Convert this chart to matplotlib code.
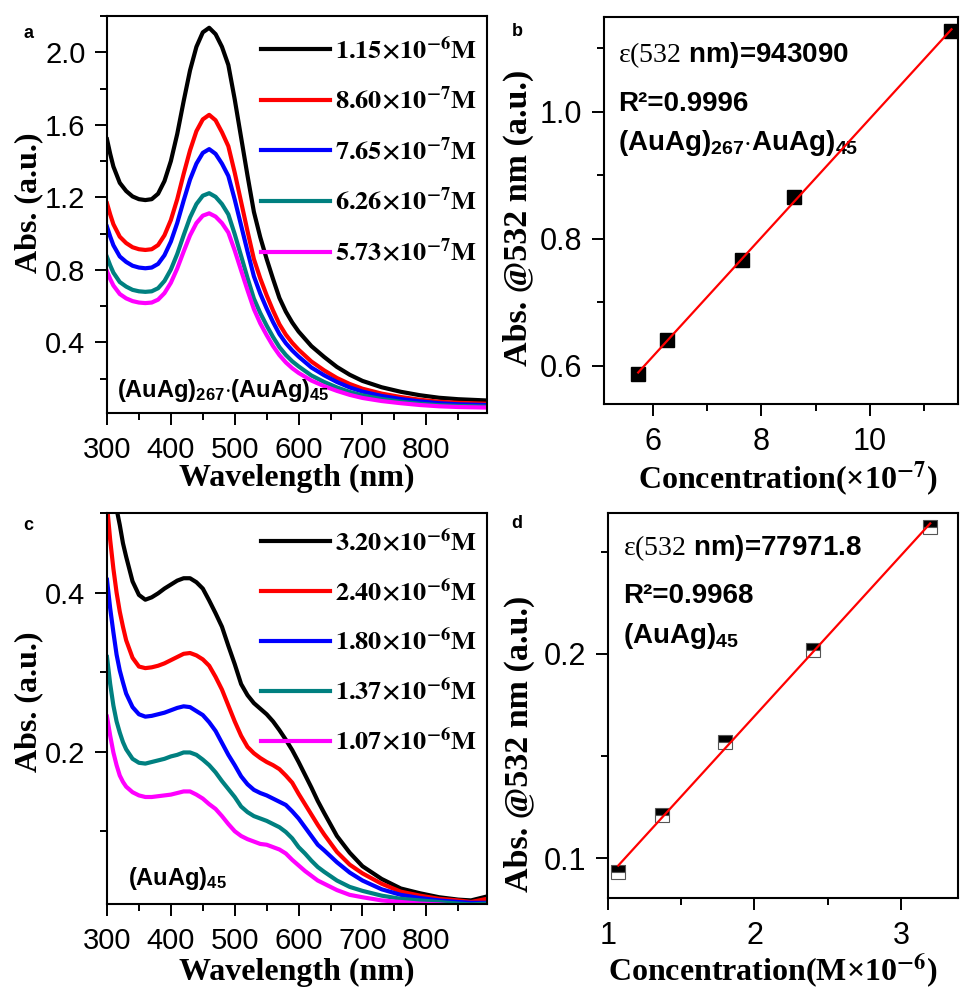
import numpy as np
import matplotlib
matplotlib.use('Agg')
import matplotlib.pyplot as plt
from matplotlib.ticker import MultipleLocator

plt.rcParams['font.family'] = ['Liberation Sans', 'DejaVu Sans']
plt.rcParams['mathtext.fontset'] = 'custom'
plt.rcParams['mathtext.rm'] = 'Liberation Serif'
plt.rcParams['mathtext.bf'] = 'Liberation Sans:bold'
plt.rcParams['mathtext.it'] = 'Liberation Serif:italic'

# ---------------- Panel a data ----------------
wl_a = [300, 305, 310, 320, 330, 340, 350, 360, 370, 380, 390, 400, 410, 420, 430,
        440, 450, 460, 470, 480, 490, 500, 510, 520, 530, 540, 550, 560, 570, 580,
        590, 600, 620, 640, 660, 680, 700, 730, 760, 790, 820, 850, 895]
a_black = [1.52, 1.44, 1.37, 1.28, 1.235, 1.205, 1.19, 1.185, 1.19, 1.22, 1.29, 1.40, 1.55, 1.73, 1.90,
           2.03, 2.11, 2.135, 2.10, 2.03, 1.93, 1.74, 1.53, 1.32, 1.12, 0.98, 0.86, 0.75, 0.645, 0.57,
           0.51, 0.46, 0.38, 0.32, 0.265, 0.222, 0.188, 0.153, 0.128, 0.109, 0.095, 0.087, 0.080]
a_red = [1.167, 1.106, 1.052, 0.983, 0.948, 0.925, 0.914, 0.910, 0.914, 0.937, 0.991, 1.075, 1.190, 1.329, 1.459,
         1.565, 1.630, 1.655, 1.625, 1.559, 1.482, 1.336, 1.175, 1.014, 0.860, 0.753, 0.660, 0.576, 0.500, 0.443,
         0.398, 0.360, 0.295, 0.246, 0.204, 0.171, 0.145, 0.118, 0.099, 0.084, 0.073, 0.067, 0.062]
a_blue = [1.038, 0.984, 0.936, 0.874, 0.844, 0.823, 0.813, 0.809, 0.813, 0.833, 0.881, 0.956, 1.059, 1.182, 1.298,
          1.386, 1.445, 1.466, 1.440, 1.386, 1.318, 1.188, 1.045, 0.902, 0.765, 0.669, 0.587, 0.512, 0.446, 0.396,
          0.356, 0.322, 0.262, 0.219, 0.182, 0.152, 0.129, 0.105, 0.088, 0.075, 0.065, 0.059, 0.055]
a_teal = [0.871, 0.825, 0.785, 0.733, 0.708, 0.690, 0.682, 0.679, 0.682, 0.699, 0.739, 0.802, 0.888, 0.991, 1.089,
          1.163, 1.209, 1.223, 1.203, 1.163, 1.106, 0.997, 0.877, 0.756, 0.642, 0.562, 0.493, 0.430, 0.374, 0.331,
          0.296, 0.268, 0.218, 0.182, 0.152, 0.127, 0.108, 0.088, 0.073, 0.062, 0.054, 0.050, 0.046]
a_mag = [0.792, 0.750, 0.714, 0.667, 0.643, 0.628, 0.620, 0.617, 0.620, 0.636, 0.672, 0.729, 0.808, 0.901, 0.990,
         1.058, 1.099, 1.112, 1.094, 1.058, 1.006, 0.907, 0.797, 0.688, 0.584, 0.505, 0.440, 0.380, 0.330, 0.290,
         0.258, 0.232, 0.190, 0.159, 0.133, 0.111, 0.094, 0.077, 0.065, 0.055, 0.048, 0.044, 0.041]
conc_a = ['1.15', '8.60', '7.65', '6.26', '5.73']
exp_a = [-6, -7, -7, -7, -7]

# ---------------- Panel b data ----------------
conc_b = [5.73, 6.26, 7.65, 8.60, 11.5]
abs_b = [0.587, 0.640, 0.767, 0.865, 1.127]

# ---------------- Panel c data ----------------
wl_c = [300, 305, 310, 315, 320, 325, 330, 340, 350, 360, 370, 380, 390, 400, 410, 420, 430,
        440, 450, 460, 470, 480, 490, 500, 510, 520, 530, 540, 550, 560, 570, 580, 590, 600,
        610, 620, 630, 640, 660, 680, 700, 730, 760, 790, 820, 850, 870, 895]
c_black = [0.62, 0.58, 0.54, 0.505, 0.485, 0.462, 0.445, 0.414, 0.397, 0.391, 0.394, 0.399, 0.405, 0.410, 0.415, 0.418, 0.418,
           0.413, 0.405, 0.390, 0.374, 0.357, 0.333, 0.310, 0.285, 0.271, 0.261, 0.254, 0.247, 0.238, 0.227, 0.215, 0.202, 0.187,
           0.171, 0.155, 0.138, 0.123, 0.094, 0.073, 0.056, 0.040, 0.028, 0.022, 0.017, 0.014, 0.013, 0.018]
c_red = [0.51, 0.466, 0.430, 0.400, 0.376, 0.357, 0.340, 0.318, 0.307, 0.305, 0.306, 0.308, 0.311, 0.315, 0.319, 0.323, 0.324,
         0.321, 0.316, 0.308, 0.294, 0.278, 0.258, 0.238, 0.220, 0.206, 0.198, 0.192, 0.187, 0.183, 0.178, 0.170, 0.161, 0.147,
         0.134, 0.121, 0.108, 0.096, 0.074, 0.058, 0.047, 0.034, 0.024, 0.019, 0.015, 0.013, 0.011, 0.015]
c_blue = [0.416, 0.380, 0.350, 0.322, 0.302, 0.287, 0.273, 0.256, 0.247, 0.244, 0.245, 0.247, 0.249, 0.252, 0.255, 0.257, 0.256,
          0.251, 0.246, 0.237, 0.226, 0.211, 0.196, 0.183, 0.169, 0.159, 0.152, 0.148, 0.145, 0.141, 0.137, 0.133, 0.125, 0.116,
          0.105, 0.094, 0.083, 0.076, 0.061, 0.048, 0.038, 0.027, 0.020, 0.016, 0.013, 0.011, 0.010, 0.010]
c_teal = [0.319, 0.285, 0.258, 0.238, 0.224, 0.212, 0.203, 0.191, 0.186, 0.185, 0.187, 0.189, 0.191, 0.194, 0.196, 0.199, 0.199,
          0.196, 0.190, 0.183, 0.174, 0.163, 0.153, 0.143, 0.131, 0.124, 0.119, 0.116, 0.113, 0.109, 0.105, 0.099, 0.091, 0.080,
          0.072, 0.063, 0.055, 0.049, 0.038, 0.030, 0.025, 0.019, 0.015, 0.013, 0.011, 0.009, 0.008, 0.009]
c_mag = [0.244, 0.220, 0.199, 0.183, 0.170, 0.162, 0.156, 0.149, 0.145, 0.143, 0.143, 0.144, 0.145, 0.146, 0.148, 0.150, 0.150,
         0.146, 0.141, 0.134, 0.128, 0.119, 0.109, 0.100, 0.094, 0.090, 0.087, 0.084, 0.083, 0.080, 0.077, 0.072, 0.064, 0.057,
         0.050, 0.044, 0.038, 0.034, 0.026, 0.020, 0.017, 0.013, 0.011, 0.009, 0.008, 0.006, 0.005, 0.005]
conc_c = ['3.20', '2.40', '1.80', '1.37', '1.07']
exp_c = [-6, -6, -6, -6, -6]

# ---------------- Panel d data ----------------
conc_d = [1.07, 1.37, 1.80, 2.40, 3.20]
abs_d = [0.093, 0.121, 0.157, 0.202, 0.262]

colors = ['#000000', '#ff0000', '#0000ff', '#008080', '#ff00ff']

W, H = 964, 992
fig = plt.figure(figsize=(W / 100, H / 100), dpi=100)


def add_ax(l, r, t, b):
    return fig.add_axes([l / W, 1 - b / H, (r - l) / W, (b - t) / H])


def style(ax, xmaj, xmin, ymaj, ymin, ls=21):
    for s in ax.spines.values():
        s.set_linewidth(1.5)
    ax.tick_params(which='both', direction='out', top=False, right=False,
                   width=1.4, labelsize=ls)
    ax.tick_params(axis='x', which='both', pad=8)
    ax.tick_params(axis='y', which='both', pad=7)
    ax.tick_params(which='major', length=8.5)
    ax.tick_params(which='minor', length=5)
    ax.xaxis.set_major_locator(MultipleLocator(xmaj))
    ax.xaxis.set_minor_locator(MultipleLocator(xmin))
    ax.yaxis.set_major_locator(MultipleLocator(ymaj))
    ax.yaxis.set_minor_locator(MultipleLocator(ymin))


def set_labels(ax, xl, yl, xc, yc, xs=23, ys=23):
    ax.set_xlabel(xl, family='Liberation Serif', weight='bold', size=xs, math_fontfamily='stix')
    ax.set_ylabel(yl, family='Liberation Serif', weight='bold', size=ys, math_fontfamily='stix')
    ax.xaxis.set_label_coords(*xc)
    ax.yaxis.set_label_coords(*yc)
    ax.xaxis.label.set_va('center')
    ax.yaxis.label.set_va('center')


def spectra(ax, wl, series, concs, exps, anchor):
    for y, c, cc, e in zip(series, colors, concs, exps):
        ax.plot(wl, y, color=c, lw=3.0,
                label=r'$\mathbf{%s{\times}10^{%d}M}$' % (cc, e))
    leg = ax.legend(loc='upper left', bbox_to_anchor=anchor, frameon=False,
                    prop=dict(family='Liberation Serif', weight='bold', size=19),
                    handlelength=2.6, handletextpad=0.2, labelspacing=0.84,
                    borderaxespad=0, borderpad=0)
    for t in leg.get_texts():
        t.set_math_fontfamily('stix')
    for l in leg.get_lines():
        l.set_linewidth(3.0)


# Panel a
axa = add_ax(107, 487, 16, 413)
spectra(axa, wl_a, [a_black, a_red, a_blue, a_teal, a_mag], conc_a, exp_a, (0.405, 0.95))
axa.set_xlim(300, 895)
axa.set_ylim(0.011, 2.2)
style(axa, 100, 50, 0.4, 0.2)
set_labels(axa, 'Wavelength (nm)', 'Abs. (a.u.)', (0.5, -0.164), (-0.205, 0.53))
axa.text(0.026, 0.04, r'$\mathbf{(AuAg)_{267}{\cdot}(AuAg)_{45}}$', transform=axa.transAxes,
         fontsize=17, va='baseline')
fig.text(28 / W, 1 - 33 / H, 'a', fontsize=13, fontweight='bold', ha='center', va='center')

# Panel b
axb = add_ax(604, 958, 17, 404)
axb.plot(conc_b, abs_b, 's', color='black', ms=9.5, zorder=3)
kb = np.polyfit(conc_b, abs_b, 1)
xb = np.array([min(conc_b), max(conc_b)])
axb.plot(xb, np.polyval(kb, xb), color='#ff0000', lw=1.6, zorder=4)
axb.set_xlim(5.1, 11.62)
axb.set_ylim(0.54, 1.149)
style(axb, 2, 1, 0.2, 0.1, ls=22)
set_labels(axb, r'Concentration(×10$^{\mathbf{-7}}$)', 'Abs. @532 nm (a.u.)',
           (0.518, -0.196), (-0.243, 0.48), xs=23, ys=24.5)
axb.text(0.04, 0.884, r'$\mathrm{ε(532}$ nm)=943090', transform=axb.transAxes,
         fontsize=20, fontweight='bold', va='baseline')
axb.text(0.04, 0.757, 'R²=0.9996', transform=axb.transAxes,
         fontsize=20, fontweight='bold', va='baseline')
axb.text(0.04, 0.656, r'$\mathbf{(AuAg)_{267}{\cdot}AuAg)_{45}}$', transform=axb.transAxes,
         fontsize=20, va='baseline')
fig.text(517 / W, 1 - 32 / H, 'b', fontsize=13, fontweight='bold', ha='center', va='center')

# Panel c
axc = add_ax(107, 487, 513, 904)
spectra(axc, wl_c, [c_black, c_red, c_blue, c_teal, c_mag], conc_c, exp_c, (0.405, 0.962))
axc.set_xlim(300, 895)
axc.set_ylim(0.0085, 0.5)
style(axc, 100, 50, 0.2, 0.1)
set_labels(axc, 'Wavelength (nm)', 'Abs. (a.u.)', (0.5, -0.176), (-0.205, 0.516))
axc.text(0.055, 0.049, r'$\mathbf{(AuAg)_{45}}$', transform=axc.transAxes,
         fontsize=17, va='baseline')
fig.text(28 / W, 1 - 525 / H, 'c', fontsize=13, fontweight='bold', ha='center', va='center')

# Panel d
axd = add_ax(608, 958, 513, 898)
axd.plot(conc_d, abs_d, 's', fillstyle='top', markerfacecolor='black',
         markerfacecoloralt='white', markeredgecolor='#555555', markeredgewidth=0.8,
         ms=9.5, zorder=3)
kd = np.polyfit(conc_d, abs_d, 1)
xd = np.array([min(conc_d), max(conc_d)])
axd.plot(xd, np.polyval(kd, xd), color='#ff0000', lw=1.6, zorder=4)
axd.set_xlim(1.0, 3.39)
axd.set_ylim(0.0805, 0.269)
style(axd, 1, 0.5, 0.1, 0.05, ls=22)
set_labels(axd, r'Concentration(M×10$^{\mathbf{-6}}$)', 'Abs. @532 nm (a.u.)',
           (0.471, -0.187), (-0.254, 0.40), xs=23, ys=24.5)
axd.text(0.043, 0.89, r'$\mathrm{ε(532}$ nm)=77971.8', transform=axd.transAxes,
         fontsize=20, fontweight='bold', va='baseline')
axd.text(0.043, 0.766, 'R²=0.9968', transform=axd.transAxes,
         fontsize=20, fontweight='bold', va='baseline')
axd.text(0.043, 0.662, r'$\mathbf{(AuAg)_{45}}$', transform=axd.transAxes,
         fontsize=20, va='baseline')
fig.text(517 / W, 1 - 523 / H, 'd', fontsize=13, fontweight='bold', ha='center', va='center')

fig.savefig('out.png', dpi=100, facecolor='white')
